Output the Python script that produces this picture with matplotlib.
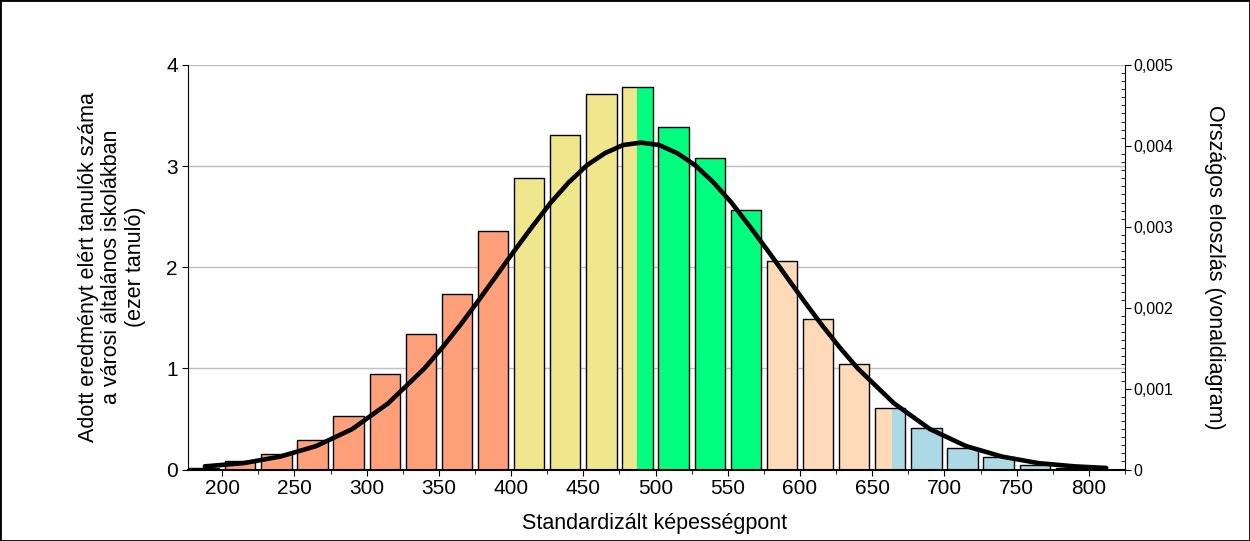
import numpy as np
import matplotlib
matplotlib.use("Agg")
import matplotlib.pyplot as plt
from matplotlib.patches import Rectangle
from matplotlib.ticker import MultipleLocator, FuncFormatter

plt.rcParams['font.family'] = ['Liberation Sans', 'DejaVu Sans']

# score bins (centre of each bar) and number of students (thousands)
bin_centers = [187.5, 212.5, 237.5, 262.5, 287.5, 312.5, 337.5, 362.5, 387.5,
               412.5, 437.5, 462.5, 487.5, 512.5, 537.5, 562.5, 587.5, 612.5,
               637.5, 662.5, 687.5, 712.5, 737.5, 762.5, 787.5]
counts = [0.02, 0.08, 0.15, 0.29, 0.53, 0.94, 1.34, 1.74, 2.36,
          2.88, 3.31, 3.71, 3.78, 3.39, 3.08, 2.57, 2.06, 1.49,
          1.04, 0.61, 0.41, 0.21, 0.12, 0.05, 0.02]

# proficiency level limits and colours
level_limits = [100, 400, 487, 575, 664, 900]
level_colors = ['#FFA07A', '#F0E68C', '#00FF7F', '#FFDAB9', '#ADD8E6']

# national distribution (line chart, right axis)
curve_x = [188, 215, 240, 265, 290, 315, 340, 352.5, 365, 377.5, 390, 402.5, 415,
           427.5, 440, 452.5, 465, 477.5, 490, 502.5, 515, 527.5, 540, 552.5, 565,
           577.5, 590, 602.5, 615, 627.5, 640, 665, 690, 715, 740, 765, 790, 812]
curve_y = [0.00004, 0.00008, 0.00016, 0.00029, 0.00050, 0.00082, 0.00125, 0.00151,
           0.00179, 0.00209, 0.00240, 0.00271, 0.00301, 0.00330, 0.00355, 0.00376,
           0.00391, 0.00401, 0.00404, 0.00401, 0.00391, 0.00376, 0.00355, 0.00330,
           0.00301, 0.00271, 0.00240, 0.00209, 0.00179, 0.00151, 0.00125, 0.00082,
           0.00050, 0.00029, 0.00016, 0.00008, 0.00004, 0.00002]

x_ticks = [200, 250, 300, 350, 400, 450, 500, 550, 600, 650, 700, 750, 800]
bar_width = 21

fig = plt.figure(figsize=(12.5, 5.41), dpi=100)
ax = fig.add_axes([0.150, 0.132, 0.750, 0.748])

for c, h in zip(bin_centers, counts):
    left, right = c - bar_width / 2, c + bar_width / 2
    for lo, hi, col in zip(level_limits[:-1], level_limits[1:], level_colors):
        a, b = max(left, lo), min(right, hi)
        if b > a:
            ax.bar(a, h, width=b - a, align='edge', color=col, linewidth=0, zorder=2)
    ax.bar(c, h, width=bar_width, fill=False, edgecolor='black', linewidth=1.0, zorder=3)

ax.set_xlim(176, 825)
ax.set_ylim(0, 4)
ax.set_xticks(x_ticks)
ax.xaxis.set_minor_locator(MultipleLocator(25))
ax.set_yticks([0, 1, 2, 3, 4])
ax.yaxis.grid(True, color='#BFBFBF', linewidth=1)
ax.set_axisbelow(True)
ax.tick_params(axis='x', which='major', length=4, labelsize=15, pad=3)
ax.tick_params(axis='x', which='minor', length=3)
ax.tick_params(axis='y', length=4, labelsize=15, pad=3)
for s in ['top', 'right']:
    ax.spines[s].set_visible(False)
ax.spines['bottom'].set_linewidth(1.5)

ax2 = ax.twinx()
ax2.plot(curve_x, curve_y, color='black', linewidth=3.3, solid_capstyle='round',
         solid_joinstyle='round', zorder=5)
ax2.set_ylim(0, 0.005)
ax2.yaxis.set_major_locator(MultipleLocator(0.001))
ax2.yaxis.set_minor_locator(MultipleLocator(0.0001))
ax2.yaxis.set_major_formatter(FuncFormatter(
    lambda v, p: '0' if abs(v) < 1e-9 else ('%.3f' % v).replace('.', ',')))
ax2.tick_params(axis='y', which='major', length=4, labelsize=11.5, pad=2)
ax2.tick_params(axis='y', which='minor', length=3, direction='in')
for s in ['top', 'left', 'bottom']:
    ax2.spines[s].set_visible(False)

fig.text(112 / 1250, 1 - 267 / 541,
         'Adott eredményt elért tanulók száma\na városi általános iskolákban\n(ezer tanuló)',
         rotation=90, ha='center', va='center', multialignment='center',
         fontsize=15.5, linespacing=1.15)
fig.text(1215 / 1250, 1 - 267 / 541, 'Országos eloszlás (vonaldiagram)',
         rotation=270, ha='center', va='center', fontsize=15.5)
fig.text(655 / 1250, 1 - 524 / 541, 'Standardizált képességpont',
         ha='center', va='center', fontsize=15.5)

fig.patches.append(Rectangle((0, 0), 1, 1, transform=fig.transFigure, fill=False,
                             edgecolor='black', linewidth=2))

fig.savefig('out.png', dpi=100)
